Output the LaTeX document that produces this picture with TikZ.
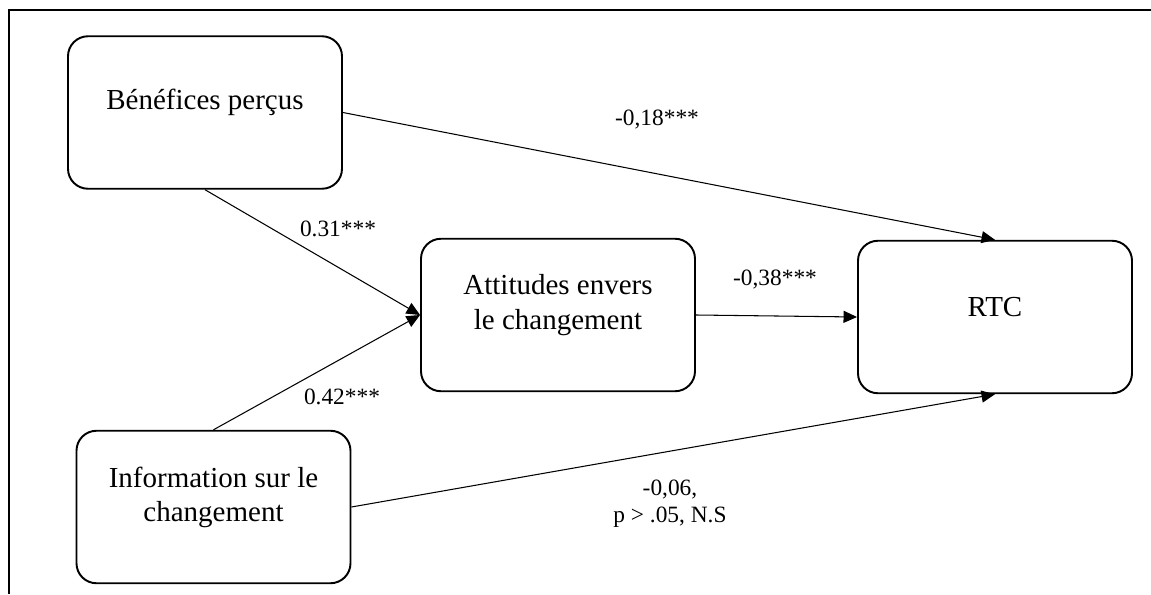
\documentclass[tikz,border=0pt]{standalone}
\usepackage{fontspec}
\setmainfont{Liberation Serif}
\usetikzlibrary{arrows.meta}

\begin{document}
\begin{tikzpicture}[
  varbox/.style={draw,line width=1.1pt,rounded corners=0.4cm,minimum width=5.48cm,minimum height=3.05cm},
  boxtext/.style={align=center,font=\fontsize{16.5}{19.8}\selectfont},
  coef/.style={align=center,font=\fontsize{13.3}{15.4}\selectfont},
  path/.style={-{Triangle[length=0.27cm,width=0.24cm]},line width=0.6pt}
]
\useasboundingbox (0,0) rectangle (23.02,11.88);

% frame
\draw[line width=1.7pt](0.16,11.68) -- (23.02,11.68);
\draw[line width=1.7pt](0.18,11.70) -- (0.18,0);

% variables
\node[varbox] (benef) at (4.10,9.63){};
\node[boxtext] (benefT) at ([yshift=0.21cm]benef.center){Bénéfices perçus};

\node[varbox] (info) at (4.27,1.74){};
\node[boxtext] (infoT) at ([yshift=0.19cm]info.center){Information sur le\\changement};

\node[varbox] (attit) at (11.16,5.58){};
\node[boxtext] (attitT) at ([yshift=0.2cm]attit.center){Attitudes envers\\le changement};

\node[varbox] (rtc) at (19.90,5.54){};
\node[boxtext] (rtcT) at ([yshift=0.2cm]rtc.center){RTC};

% paths
\draw[path](benef.east) -- (rtc.north);
\draw[path](benef.south) -- (attit.west);
\draw[path](info.north) -- (attit.west);
\draw[path](attit.east) -- (rtc.west);
\draw[path](info.east) -- (rtc.south);

% coefficients
\node[coef] (c1) at (13.14,9.48){-0,18***};
\node[coef] (c2) at (6.76,7.30){0.31***};
\node[coef] (c3) at (6.84,3.94){0.42***};
\node[coef] (c4) at (15.50,6.28){-0,38***};
\node[coef] (c5) at (13.40,1.80){-0,06,\\p > .05, N.S};

\end{tikzpicture}
\end{document}
